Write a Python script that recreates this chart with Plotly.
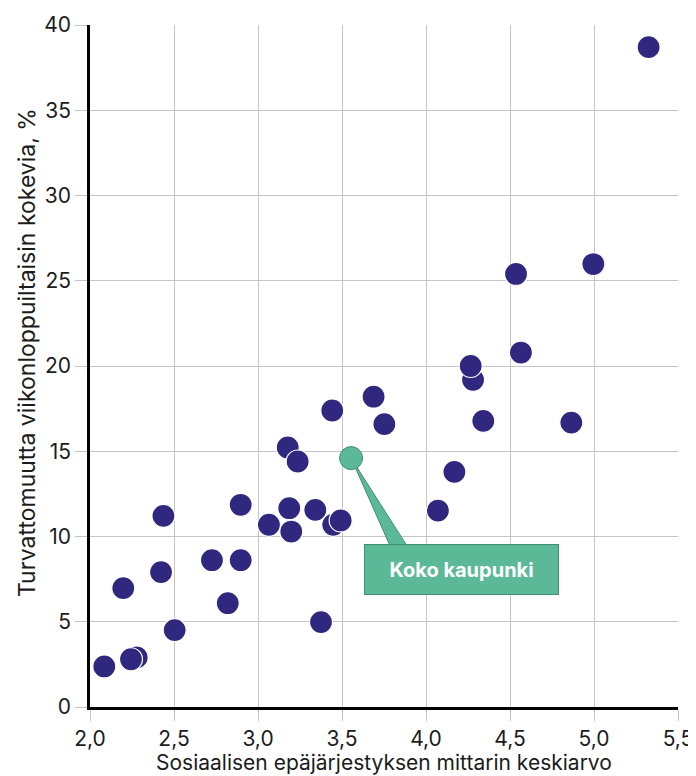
import plotly.graph_objects as go

# Data
x_vals = [5.325, 4.536, 4.996, 4.565, 4.280, 4.266, 4.341, 4.865, 4.169, 4.071,
          3.688, 3.752, 3.442, 3.177, 3.236, 2.897, 3.186, 3.341, 3.065, 3.198,
          3.448, 3.492, 2.437, 2.198, 2.423, 2.726, 2.897, 2.820, 2.504, 3.375,
          2.085, 2.278, 2.244]
y_vals = [38.7, 25.4, 25.98, 20.79, 19.19, 20.0, 16.78, 16.68, 13.79, 11.52,
          18.2, 16.59, 17.39, 15.22, 14.4, 11.86, 11.66, 11.56, 10.69, 10.29,
          10.69, 10.94, 11.21, 6.97, 7.91, 8.61, 8.61, 6.09, 4.51, 4.98,
          2.38, 2.91, 2.8]

city_x = [3.554]
city_y = [14.6]
city_label = "Koko kaupunki"

x_ticks = [2.0, 2.5, 3.0, 3.5, 4.0, 4.5, 5.0, 5.5]
y_ticks = [0, 5, 10, 15, 20, 25, 30, 35, 40]

x_title = "Sosiaalisen epäjärjestyksen mittarin keskiarvo"
y_title = "Turvattomuutta viikonloppuiltaisin kokevia, %"

NAVY = "#30287f"
GREEN = "#5bb997"
GREEN_DARK = "#3f8f70"
GRID = "#c4c4c4"
FONT = "Inter, Roboto, sans-serif"
TXT = "#1c1c1c"

fig = go.Figure()

fig.add_trace(go.Scatter(
    x=x_vals, y=y_vals, mode="markers",
    marker=dict(size=23, color=NAVY, line=dict(color="white", width=1.2)),
    cliponaxis=False, hoverinfo="x+y", showlegend=False,
))

fig.add_trace(go.Scatter(
    x=city_x, y=city_y, mode="markers",
    marker=dict(size=23, color=GREEN, line=dict(color=GREEN_DARK, width=1)),
    cliponaxis=False, showlegend=False,
))

# Callout box + wedge pointing to the city-wide point
box_x, box_y = 4.214, 8.05
base_y = 9.45
fig.add_shape(
    type="path",
    path=f"M {city_x[0]} {city_y[0]} L 3.786 {base_y} L 3.887 {base_y} Z",
    xref="x", yref="y", fillcolor=GREEN,
    line=dict(color=GREEN_DARK, width=1), layer="between",
)
fig.add_annotation(
    x=box_x, y=box_y, xref="x", yref="y",
    text=f"<b>{city_label}</b>", showarrow=False,
    font=dict(family=FONT, size=20, color="white"),
    bgcolor=GREEN, bordercolor=GREEN_DARK, borderwidth=1,
    width=193, height=49, borderpad=0,
    xanchor="center", yanchor="middle",
)

# Axis titles as paper-positioned annotations
fig.add_annotation(
    x=0.5, y=0, xref="paper", yref="paper", yshift=-55,
    text=x_title, showarrow=False, xanchor="center", yanchor="middle",
    font=dict(family=FONT, size=21, color=TXT),
)
fig.add_annotation(
    x=0, y=0.519, xref="paper", yref="paper", xshift=-63,
    text=y_title, showarrow=False, textangle=-90,
    xanchor="center", yanchor="middle",
    font=dict(family=FONT, size=23, color=TXT),
)

# The page adds an 8px body margin; size the figure so it ends at the window edge.
fig.update_layout(
    width=688, height=768,
    margin=dict(l=82, r=18, t=17, b=69),
    paper_bgcolor="white", plot_bgcolor="white",
    separators=", ",
    font=dict(family=FONT, size=21, color=TXT),
    showlegend=False,
)

fig.update_xaxes(
    range=[2.0, 5.5], tickvals=x_ticks, tickformat=".1f",
    showgrid=True, gridcolor=GRID, gridwidth=1,
    ticks="outside", ticklen=11, tickcolor=GRID, tickwidth=1,
    showline=True, linecolor="black", linewidth=2.5,
    zeroline=False, automargin=False,
    tickfont=dict(family=FONT, size=21, color=TXT),
)
fig.update_yaxes(
    range=[0, 40], tickvals=y_ticks,
    showgrid=True, gridcolor=GRID, gridwidth=1,
    ticks="outside", ticklen=12, tickcolor=GRID, tickwidth=1,
    showline=True, linecolor="black", linewidth=2.5,
    zeroline=False, automargin=False,
    tickfont=dict(family=FONT, size=21, color=TXT),
)

fig.write_html("out.html")
